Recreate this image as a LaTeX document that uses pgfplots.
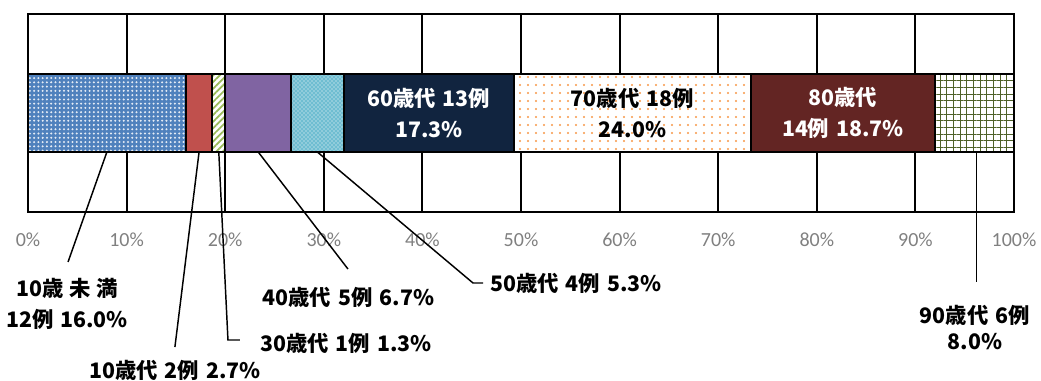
\documentclass[border=0pt]{standalone}
\usepackage{fontspec}
\setmainfont{Carlito}
\newfontfamily\cjk{Noto Sans CJK JP}
\usepackage{pgfplots}
\pgfplotsset{compat=1.18}
\usetikzlibrary{patterns,patterns.meta}
\definecolor{cBlue}{RGB}{79,129,189}
\definecolor{cRed}{RGB}{192,80,77}
\definecolor{cGreen}{RGB}{155,187,89}
\definecolor{cPurple}{RGB}{128,100,162}
\definecolor{cCyan}{RGB}{75,172,198}
\definecolor{cNavy}{RGB}{17,36,63}
\definecolor{cOrange}{RGB}{247,150,70}
\definecolor{cDarkRed}{RGB}{99,37,35}
\definecolor{cOlive}{RGB}{79,98,40}
\definecolor{cTick}{RGB}{128,128,128}
\newcommand\lab{\cjk\bfseries\fontsize{16}{23.5}\selectfont}
\newcommand\gap{\hspace{0.33em}}
\begin{document}
\begin{tikzpicture}
\begin{axis}[
  at={(0,0)}, anchor=south west,
  scale only axis, width=739.5pt, height=148.5pt,
  xbar stacked, bar width=58.5pt,
  xmin=0, xmax=100, ymin=-1, ymax=1,
  ytick=\empty,
  xtick={0,10,...,100},
  xticklabel={\pgfmathprintnumber{\tick}\%},
  /pgf/number format/assume math mode=true,
  xmajorgrids, grid style={black, line width=1.5pt},
  axis line style={black, line width=1.5pt},
  major tick length=0pt,
  xticklabel style={font=\fontsize{15}{18}\selectfont, text=cTick, anchor=center, yshift=-21pt},
  clip=false,
  every axis plot/.append style={draw=black, line width=1.5pt},
]
\addplot[fill=cBlue, postaction={pattern={Dots[radius=0.85pt,distance=3.2pt]}, pattern color=white!85!cBlue}] coordinates {(16.0,0)};
\addplot[fill=cRed] coordinates {(2.7,0)};
\addplot[fill=white, postaction={pattern={Lines[angle=45,distance=3.5pt,line width=1.3pt]}, pattern color=cGreen}] coordinates {(1.3,0)};
\addplot[fill=cPurple] coordinates {(6.7,0)};
\addplot[fill=cCyan!80, postaction={pattern=crosshatch dots, pattern color=white}] coordinates {(5.3,0)};
\addplot[fill=cNavy] coordinates {(17.3,0)};
\addplot[fill=white, postaction={pattern={Dots[radius=0.9pt,distance=6pt]}, pattern color=cOrange}] coordinates {(24.0,0)};
\addplot[fill=cDarkRed] coordinates {(18.7,0)};
\addplot[fill=white, postaction={pattern={Hatch[angle=0,distance=5pt,line width=0.75pt]}, pattern color=cOlive}] coordinates {(8.0,0)};

\coordinate (l60) at (axis cs:40.65,0);
\coordinate (l70) at (axis cs:61.3,0);
\coordinate (l80) at (axis cs:82.65,0);

% leader lines
\draw[line width=1.1pt] (axis cs:8.0,-0.394) -- (axis cs:4.06,-1.505);
\draw[line width=1.1pt] (axis cs:17.35,-0.394) -- (axis cs:14.9,-2.364);
\draw[line width=1.1pt] (axis cs:19.35,-0.394) -- (axis cs:20.28,-2.293) -- (axis cs:21.5,-2.293);
\draw[line width=1.1pt] (axis cs:23.35,-0.394) -- (axis cs:32.45,-1.576);
\draw[line width=1.1pt] (axis cs:29.35,-0.394) -- (axis cs:45.13,-1.717) -- (axis cs:46.15,-1.717);
\draw[line width=1.1pt] (axis cs:96.2,-0.394) -- (axis cs:96.2,-1.707);

% outside labels
\node[align=center, font=\lab] at (axis cs:3.96,-1.929) {10歳\hspace{4pt}未\hspace{4pt}満\\12例\gap16.0\%};
\node[align=center, font=\lab] at (axis cs:14.91,-2.595) {10歳代\gap2例\gap2.7\%};
\node[anchor=west, inner sep=0pt, font=\lab] at (axis cs:23.53,-2.323) {30歳代\gap1例\gap1.3\%};
\node[align=center, font=\lab] at (axis cs:32.5,-1.859) {40歳代\gap5例\gap6.7\%};
\node[anchor=west, inner sep=0pt, font=\lab] at (axis cs:46.86,-1.717) {50歳代\gap4例\gap5.3\%};
\node[align=center, font=\lab] at (axis cs:96.04,-2.167) {90歳代\gap6例\\[-4pt]8.0\%};
\end{axis}
% inside labels (drawn on top of the bars)
\node[align=center, font=\lab, text=white] at (l60) {60歳代\gap13例\\17.3\%};
\node[align=center, font=\lab, text=black] at (l70) {70歳代\gap18例\\24.0\%};
\node[align=center, font=\lab, text=white] at (l80) {80歳代\\14例\gap18.7\%};
\pgfresetboundingbox
\path[use as bounding box] (-21pt,-126.75pt) rectangle (759.75pt,159pt);
\end{tikzpicture}
\end{document}
